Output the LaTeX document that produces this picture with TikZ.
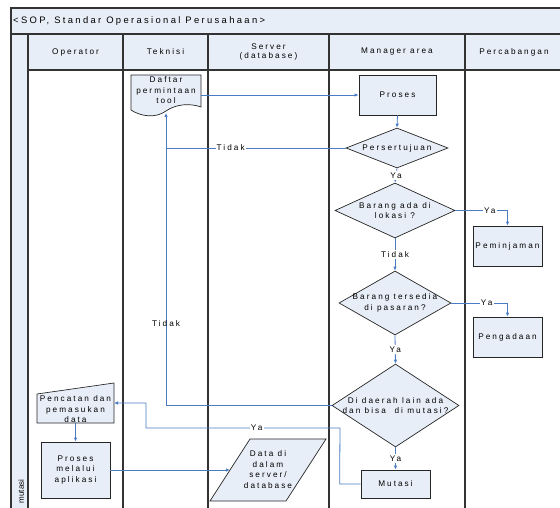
\documentclass[tikz,border=0pt]{standalone}
\usepackage{fontspec}
\setmainfont{Liberation Sans}[LetterSpace=25]
\newfontfamily\plainf{Liberation Sans}
\usetikzlibrary{arrows.meta,shapes.geometric}
\definecolor{fillb}{HTML}{E8EEF7}
\definecolor{conn}{HTML}{4A7CC4}
\definecolor{framec}{HTML}{333333}
\begin{document}
\begin{tikzpicture}[x=1pt,y=-1pt,
  lane/.style={draw=framec,line width=1.4pt},
  shp/.style={draw=black!85,fill=fillb,line width=0.7pt},
  txt/.style={font=\fontsize{8.2}{10.5}\selectfont,align=center,inner sep=0pt},
  anc/.style={inner sep=0pt,outer sep=0pt},
  con/.style={draw=conn,line width=0.8pt},
  arr/.style={con,-{Latex[length=4pt,width=3.5pt]}},
  lbl/.style={txt,fill=white,inner sep=1.2pt},
  dia/.style={shp,diamond,inner sep=0pt}]
\useasboundingbox (0,0) rectangle (560,508);
% lanes
\fill[fillb] (11,8) rectangle (560,70);
\fill[fillb] (11,34) rectangle (28,508);
\draw[lane] (560,8) -- (11,8) -- (11,508);
\draw[lane] (11,34) -- (560,34);
\draw[lane] (28,70) -- (560,70);
\foreach \x in {28,123,208,329,465} \draw[lane] (\x,34) -- (\x,508);
\node[txt,anchor=west,font=\fontsize{9.4}{11}\selectfont] (title) at (13,21) {<SOP, Standar Operasional Perusahaan>};
\node[txt] (hop) at (75.5,52) {Operator};
\node[txt] (htek) at (165.5,52) {Teknisi};
\node[txt,font=\fontsize{8.2}{9}\selectfont] (hsrv) at (268.5,52) {Server\\(database)};
\node[txt] (hman) at (397,52) {Manager area};
\node[txt] (hcab) at (514,52) {Percabangan};
\node[txt,rotate=90,font=\plainf\fontsize{8}{9}\selectfont] (lmut) at (21,491.5) {mutasi};
% document shape
\node[anc,minimum width=70,minimum height=36] (daftar) at (166,93) {};
\draw[shp] (131,110) -- (131,75) -- (201,75) -- (201,107)
  .. controls (190,103) and (176,104) .. (166,111)
  .. controls (155,119) and (140,116) .. (131,110) -- cycle;
\node[txt] (daftart) at (166,90.5) {Daftar\\permintaan\\tool};
\coordinate (dbot) at (166,113);
% manager lane
\node[shp,txt,minimum width=77,minimum height=40] (proses) at (397.5,95) {Proses};
\node[dia,minimum width=102,minimum height=40] (pers) at (397,148) {};
\node[txt] at (pers) {Persertujuan};
\node[dia,minimum width=120,minimum height=55] (lok) at (395,210.5) {};
\node[txt] at (lok) {Barang ada di\\lokasi ?};
\node[dia,minimum width=112,minimum height=64] (pas) at (395,303) {};
\node[txt] at (pas) {Barang tersedia\\di pasaran?};
\node[dia,minimum width=127,minimum height=83] (mut) at (395.5,405.5) {};
\node[txt] at (mut) {Di daerah lain ada\\dan bisa\ \ di mutasi?};
\node[shp,txt,minimum width=69,minimum height=28] (mutbox) at (395.5,484) {Mutasi};
% percabangan lane
\node[shp,txt,minimum width=69,minimum height=40] (pem) at (507.5,246) {Peminjaman};
\node[shp,txt,minimum width=69,minimum height=40] (peng) at (507.5,337) {Pengadaan};
% operator lane
\node[anc,minimum width=77,minimum height=40] (pen) at (75.5,403) {};
\draw[shp] (37,394) -- (114,383) -- (114,423) -- (37,423) -- cycle;
\node[txt] (pent) at (75.5,409.5) {Pencatan dan\\pemasukan\\data};
\node[shp,txt,minimum width=69,minimum height=56] (pa) at (75.5,470) {Proses\\melalui\\aplikasi};
% server lane
\node[anc,minimum width=116,minimum height=62] (data) at (268,470) {};
\draw[shp] (250,439) -- (326,439) -- (286,501) -- (210,501) -- cycle;
\node[txt] (datat) at (268,469.5) {Data di\\dalam\\server/\\database};
\coordinate (dataL) at (230,470);
% connectors
\draw[arr] (daftar.east |- proses.west) -- (proses.west);
\draw[arr] (proses.south) -- (pers.north);
\draw[arr] (pers.south) -- node[lbl]{Ya} (lok.north);
\draw[arr] (lok.east) -- node[lbl,pos=0.66]{Ya} (lok.east -| pem.north) -- (pem.north);
\draw[arr] (lok.south) -- node[lbl]{Tidak} (pas.north);
\draw[arr] (pas.east) -- node[lbl,pos=0.63]{Ya} (pas.east -| peng.north) -- (peng.north);
\draw[arr] (pas.south) -- node[lbl]{Ya} (mut.north);
\draw[arr] (mut.south) -- node[lbl]{Ya} (mutbox.north);
\coordinate (jn) at (pers.west -| dbot);
\draw[arr] (pers.west) -- node[lbl,pos=0.64]{Tidak} (jn) -- (dbot);
\draw[con] (mut.west) -- (mut.west -| dbot) -- node[txt,pos=0.32]{Tidak} (jn);
\draw[arr] (mutbox.west) -- ++(-21,0) -- (340,428) -- node[lbl,pos=0.43]{Ya} (146,428) -- (146,403) -- (pen.east);
\draw[arr] (pen.south) -- (pa.north);
\draw[arr] (pa.east) -- (pa.east -| dataL);
\end{tikzpicture}
\end{document}
